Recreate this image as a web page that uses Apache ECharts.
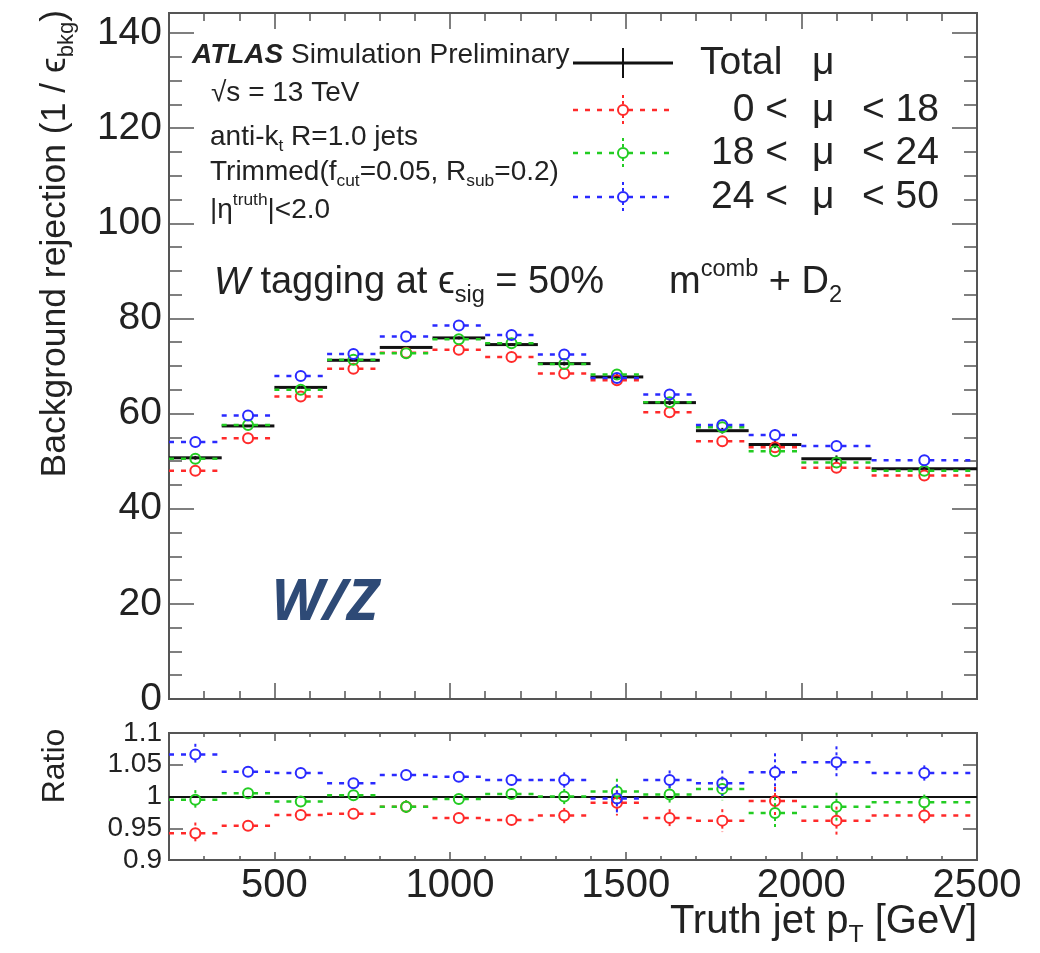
<!DOCTYPE html>
<html><head><meta charset="utf-8">
<script src="https://cdn.jsdelivr.net/npm/echarts@6/dist/echarts.min.js"></script>
<style>html,body{margin:0;padding:0;background:#fff}#c{width:1040px;height:953px}</style>
</head><body><div id="c"></div>
<script>
// ---------------- data ----------------
const binLow  = [200, 350, 500, 650, 800, 950, 1100, 1250, 1400, 1550, 1700, 1850, 2000, 2200];
const binHigh = [350, 500, 650, 800, 950, 1100, 1250, 1400, 1550, 1700, 1850, 2000, 2200, 2500];

const totalMu   = [50.7, 57.4, 65.5, 71.2, 73.9, 75.9, 74.5, 70.5, 67.7, 62.3, 56.4, 53.5, 50.5, 48.4];
const mu0to18   = [48.0, 54.8, 63.6, 69.4, 72.8, 73.4, 71.9, 68.4, 67.0, 60.3, 54.2, 52.9, 48.6, 47.0];
const mu18to24  = [50.5, 57.6, 65.0, 71.3, 72.7, 75.6, 74.8, 70.4, 68.2, 62.4, 57.1, 52.1, 49.7, 48.0];
const mu24to50  = [54.0, 59.6, 67.9, 72.5, 76.2, 78.5, 76.5, 72.4, 67.5, 64.0, 57.6, 55.5, 53.2, 50.2];

const totalErr  = [0.4, 0.2, 0.2, 0.2, 0.3, 0.3, 0.3, 0.4, 0.6, 0.5, 0.6, 0.8, 0.7, 0.4];
const err0to18  = [0.6, 0.3, 0.3, 0.3, 0.5, 0.5, 0.5, 0.6, 0.9, 0.7, 0.8, 1.0, 0.9, 0.5];
const err18to24 = [0.6, 0.3, 0.3, 0.3, 0.5, 0.5, 0.5, 0.6, 0.9, 0.7, 0.8, 1.1, 0.9, 0.5];
const err24to50 = [0.6, 0.3, 0.3, 0.3, 0.5, 0.5, 0.5, 0.6, 0.9, 0.7, 0.8, 1.2, 0.9, 0.5];

const ratio0to18  = [0.942, 0.954, 0.971, 0.973, 0.984, 0.966, 0.963, 0.970, 0.990, 0.966, 0.962, 0.993, 0.962, 0.970];
const ratio18to24 = [0.995, 1.005, 0.992, 1.002, 0.984, 0.996, 1.004, 1.000, 1.008, 1.003, 1.012, 0.974, 0.984, 0.991];
const ratio24to50 = [1.066, 1.039, 1.037, 1.021, 1.034, 1.031, 1.026, 1.026, 0.997, 1.026, 1.021, 1.038, 1.054, 1.037];
const rerr0to18   = [0.017, 0.006, 0.006, 0.006, 0.010, 0.008, 0.008, 0.012, 0.020, 0.014, 0.018, 0.022, 0.022, 0.012];
const rerr18to24  = [0.015, 0.006, 0.006, 0.006, 0.010, 0.008, 0.008, 0.012, 0.020, 0.014, 0.018, 0.025, 0.022, 0.012];
const rerr24to50  = [0.017, 0.006, 0.006, 0.006, 0.008, 0.008, 0.008, 0.012, 0.022, 0.015, 0.020, 0.030, 0.025, 0.012];

const xMajorTicks = [500, 1000, 1500, 2000, 2500];
const legendNames = [['Total', ''], ['0 <', '< 18'], ['18 <', '< 24'], ['24 <', '< 50']];

// ---------------- style ----------------
const FONT = '"Liberation Sans", Arial, Helvetica, "DejaVu Sans", sans-serif';
const TXT = '#222';
const FRAME = '#555';
const RED = '#ff2a2a', GREEN = '#22cc22', BLUE = '#2a2aff', BLACK = '#111';

const mctx = document.createElement('canvas').getContext('2d');
function tw(t, size, weight, style, fam) {
  mctx.font = `${style} ${weight} ${size}px ${fam || FONT}`;
  return mctx.measureText(t).width;
}
function richGroup(parts, base, x, y, opts) {
  opts = opts || {};
  const fam = opts.font || FONT;
  let cx = 0; const children = [];
  parts.forEach(p => {
    const t = p[0], kind = p[1] || 'n';
    let size = base, dy = 0, weight = 'normal', style = 'normal';
    if (kind === 'sub') { size = base * 0.62; dy = base * 0.34; }
    if (kind === 'sup') { size = base * 0.62; dy = -base * 0.36; }
    if (kind === 'B' || kind === 'BI') weight = 'bold';
    if (kind === 'I' || kind === 'BI') style = 'italic';
    children.push({ type: 'text', x: cx, y: dy, style: { text: t, fontSize: size, fontWeight: weight, fontStyle: style, fontFamily: fam, fill: opts.color || TXT, verticalAlign: 'middle', align: 'left' } });
    cx += tw(t, size, weight, style, fam);
  });
  let off = 0;
  if (opts.align === 'right') off = -cx;
  if (opts.align === 'center') off = -cx / 2;
  children.forEach(c => c.x += off);
  return { type: 'group', x: x, y: y, rotation: opts.rotation || 0, children: children, z: 100 };
}

// ---------------- binned series ----------------
function binSeries(name, xIdx, yIdx, vals, errs, color, dashed, circle, lineW, z) {
  return {
    type: 'custom', name: name, xAxisIndex: xIdx, yAxisIndex: yIdx, z: z, clip: true,
    data: vals.map((v, i) => [binLow[i], binHigh[i], v, errs[i]]),
    encode: { x: [0, 1], y: 2 },
    renderItem: function (params, api) {
      const v = api.value(2), e = api.value(3);
      const lo = api.coord([api.value(0), v]);
      const hi = api.coord([api.value(1), v]);
      const mid = api.coord([(api.value(0) + api.value(1)) / 2, v]);
      const up = api.coord([api.value(0), v + e]);
      const dn = api.coord([api.value(0), v - e]);
      const r = circle ? 5 : 0;
      const ls = { stroke: color, lineWidth: lineW, lineDash: dashed ? [5, 7] : null };
      const vs = { stroke: color, lineWidth: 2, lineDash: dashed ? [3, 3] : null };
      const ch = [];
      ch.push({ type: 'line', shape: { x1: lo[0], y1: lo[1], x2: mid[0] - r, y2: mid[1] }, style: ls });
      ch.push({ type: 'line', shape: { x1: mid[0] + r, y1: mid[1], x2: hi[0], y2: hi[1] }, style: ls });
      if (mid[1] - up[1] > r) ch.push({ type: 'line', shape: { x1: mid[0], y1: up[1], x2: mid[0], y2: mid[1] - r }, style: vs });
      if (dn[1] - mid[1] > r) ch.push({ type: 'line', shape: { x1: mid[0], y1: mid[1] + r, x2: mid[0], y2: dn[1] }, style: vs });
      if (circle) ch.push({ type: 'circle', shape: { cx: mid[0], cy: mid[1], r: r }, style: { fill: 'none', stroke: color, lineWidth: 2 } });
      return { type: 'group', children: ch };
    }
  };
}

// ---------------- axes ----------------
const G0 = { left: 169, top: 13, width: 808, height: 686 };
const G1 = { left: 169, top: 733, width: 808, height: 127 };
const axLine = { show: true, onZero: false, lineStyle: { color: FRAME, width: 2 } };
const noLine = { show: false, onZero: false };

function xAxes(grid, majorLen, minorLen, labels) {
  const base = { type: 'value', gridIndex: grid, min: 200, max: 2500, interval: 100, splitLine: { show: false } };
  const tk = (len, cv) => Object.assign({ show: true, inside: true, length: len, lineStyle: { color: FRAME, width: 1.5 } }, cv ? { customValues: cv } : {});
  return [
    Object.assign({}, base, { position: 'bottom', axisLine: axLine, axisTick: tk(minorLen),
      axisLabel: labels ? { show: true, customValues: xMajorTicks, formatter: v => String(v), fontSize: 40, fontFamily: FONT, color: TXT, margin: 6, showMaxLabel: true, showMinLabel: true } : { show: false } }),
    Object.assign({}, base, { position: 'bottom', axisLine: noLine, axisTick: tk(majorLen, xMajorTicks), axisLabel: { show: false } }),
    Object.assign({}, base, { position: 'top', axisLine: axLine, axisTick: tk(minorLen), axisLabel: { show: false } }),
    Object.assign({}, base, { position: 'top', axisLine: noLine, axisTick: tk(majorLen, xMajorTicks), axisLabel: { show: false } })
  ];
}
function yAx(grid, pos, min, max, interval, len, labels, fontSize, fmt, line) {
  return { type: 'value', gridIndex: grid, position: pos, min: min, max: max, interval: interval,
    splitLine: { show: false }, axisLine: line === false ? noLine : axLine,
    axisTick: { show: true, inside: true, length: len, lineStyle: { color: FRAME, width: 1.5 } },
    axisLabel: labels ? { show: true, fontSize: fontSize, fontFamily: FONT, color: TXT, margin: 7, formatter: fmt } : { show: false } };
}

const xAxis = [].concat(xAxes(0, 16, 8, false), xAxes(1, 8, 4, true));
const yAxis = [
  yAx(0, 'left', 0, 144.2, 20, 25, true, 39, v => (Math.abs(v % 20) < 1e-6 ? String(v) : '')),
  yAx(0, 'left', 0, 144.2, 5, 13, false, 0, null, false),
  yAx(0, 'right', 0, 144.2, 20, 25, false),
  yAx(0, 'right', 0, 144.2, 5, 13, false, 0, null, false),
  yAx(1, 'left', 0.9, 1.1, 0.05, 14, true, 28, v => String(Math.round(v * 100) / 100)),
  yAx(1, 'right', 0.9, 1.1, 0.05, 14, false)
];

// ---------------- series ----------------
const series = [
  binSeries('Total μ', 0, 0, totalMu, totalErr, BLACK, false, false, 3, 10),
  binSeries('0 < μ < 18', 0, 0, mu0to18, err0to18, RED, true, true, 2.5, 11),
  binSeries('18 < μ < 24', 0, 0, mu18to24, err18to24, GREEN, true, true, 2.5, 12),
  binSeries('24 < μ < 50', 0, 0, mu24to50, err24to50, BLUE, true, true, 2.5, 13),
  {
    type: 'line', xAxisIndex: 4, yAxisIndex: 4, data: [], silent: true, z: 5,
    markLine: { silent: true, symbol: 'none', label: { show: false }, lineStyle: { color: BLACK, width: 2, type: 'solid' }, data: [{ yAxis: 1 }] }
  },
  binSeries('r 0 < μ < 18', 4, 4, ratio0to18, rerr0to18, RED, true, true, 2.5, 11),
  binSeries('r 18 < μ < 24', 4, 4, ratio18to24, rerr18to24, GREEN, true, true, 2.5, 12),
  binSeries('r 24 < μ < 50', 4, 4, ratio24to50, rerr24to50, BLUE, true, true, 2.5, 13)
];

// ---------------- annotations ----------------
const graphic = [];
graphic.push(richGroup([['ATLAS', 'BI'], [' Simulation Preliminary', 'n']], 28, 192, 55));
graphic.push(richGroup([['√s = 13 TeV', 'n']], 28, 211, 93));
graphic.push(richGroup([['anti-k', 'n'], ['t', 'sub'], [' R=1.0 jets', 'n']], 28, 210, 137));
graphic.push(richGroup([['Trimmed(f', 'n'], ['cut', 'sub'], ['=0.05, R', 'n'], ['sub', 'sub'], ['=0.2)', 'n']], 28, 210, 172));
graphic.push(richGroup([['|η', 'n'], ['truth', 'sup'], ['|<2.0', 'n']], 28, 210, 210));
graphic.push(richGroup([['W', 'I'], [' tagging at ϵ', 'n'], ['sig', 'sub'], [' = 50%', 'n']], 38, 214, 283));
graphic.push(richGroup([['m', 'n'], ['comb', 'sup'], [' + D', 'n'], ['2', 'sub']], 38, 669, 283));
graphic.push(richGroup([['W/Z', 'BI']], 58, 271, 603, { color: '#2e4a76', font: '"Open Sans", "Noto Sans", sans-serif' }));

// axis titles
graphic.push(richGroup([['Background rejection (1 / ϵ', 'n'], ['bkg', 'sub'], [')', 'n']], 35.5, 55, 10, { align: 'right', rotation: Math.PI / 2 }));
graphic.push(richGroup([['Ratio', 'n']], 32, 55, 766, { align: 'center', rotation: Math.PI / 2 }));
graphic.push(richGroup([['Truth jet p', 'n'], ['T', 'sub'], [' [GeV]', 'n']], 40, 977, 922, { align: 'right' }));

// legend
const legRows = [63, 110, 153, 197];
const legColors = [BLACK, RED, GREEN, BLUE];
legRows.forEach((y, i) => {
  const c = legColors[i];
  const dashed = i > 0;
  const ls = { stroke: c, lineWidth: dashed ? 2.5 : 3, lineDash: dashed ? [5, 7] : null };
  const vs = { stroke: c, lineWidth: 2, lineDash: dashed ? [3, 3] : null };
  const r = dashed ? 5 : 0;
  graphic.push({ type: 'line', z: 100, shape: { x1: 573, y1: y, x2: 623 - r, y2: y }, style: ls });
  graphic.push({ type: 'line', z: 100, shape: { x1: 623 + r, y1: y, x2: 673, y2: y }, style: ls });
  graphic.push({ type: 'line', z: 100, shape: { x1: 623, y1: y - 15, x2: 623, y2: y - r }, style: vs });
  graphic.push({ type: 'line', z: 100, shape: { x1: 623, y1: y + r, x2: 623, y2: y + 15 }, style: vs });
  if (dashed) graphic.push({ type: 'circle', z: 100, shape: { cx: 623, cy: y, r: r }, style: { fill: 'none', stroke: c, lineWidth: 2 } });
  const n = legendNames[i];
  if (i === 0) graphic.push(richGroup([[n[0], 'n']], 39, 700, y));
  else graphic.push(richGroup([[n[0], 'n']], 39, 788, y, { align: 'right' }));
  graphic.push(richGroup([['μ', 'n']], 39, 812, y));
  if (n[1]) graphic.push(richGroup([[n[1], 'n']], 39, 862, y));
});

const chart = echarts.init(document.getElementById('c'), null, { renderer: 'canvas' });
chart.setOption({
  animation: false,
  backgroundColor: '#fff',
  grid: [
    Object.assign({ show: true, borderColor: FRAME, borderWidth: 2, backgroundColor: 'transparent' }, G0),
    Object.assign({ show: true, borderColor: FRAME, borderWidth: 2, backgroundColor: 'transparent' }, G1)
  ],
  xAxis: xAxis,
  yAxis: yAxis,
  series: series,
  graphic: graphic
});
</script>
</body></html>
